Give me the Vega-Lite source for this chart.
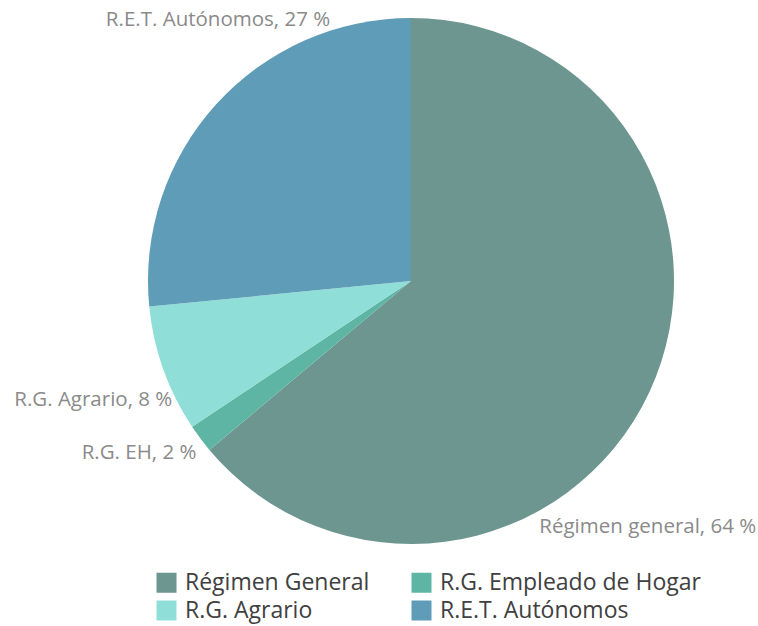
{
  "$schema": "https://vega.github.io/schema/vega-lite/v6.json",
  "width": 694,
  "height": 562,
  "padding": {"left": 64, "top": 0, "right": 0, "bottom": 64},
  "autosize": {"type": "none"},
  "background": "white",
  "config": {"view": {"stroke": null}, "font": "Open Sans"},
  "data": {
    "values": [
      {"serie": "Régimen General", "etiqueta": "Régimen general, 64 %", "valor": 63.9, "orden": 1},
      {"serie": "R.G. Empleado de Hogar", "etiqueta": "R.G. EH, 2 %", "valor": 1.75, "orden": 2},
      {"serie": "R.G. Agrario", "etiqueta": "R.G. Agrario, 8 %", "valor": 7.8, "orden": 3},
      {"serie": "R.E.T. Autónomos", "etiqueta": "R.E.T. Autónomos, 27 %", "valor": 26.55, "orden": 4}
    ]
  },
  "encoding": {
    "theta": {"field": "valor", "type": "quantitative", "stack": true},
    "order": {"field": "orden", "type": "quantitative"}
  },
  "layer": [
    {
      "mark": {"type": "arc", "outerRadius": 263},
      "encoding": {
        "color": {
          "field": "serie",
          "type": "nominal",
          "scale": {
            "domain": ["Régimen General", "R.G. Empleado de Hogar", "R.G. Agrario", "R.E.T. Autónomos"],
            "range": ["#6c968f", "#5fb5a3", "#90ded8", "#5f9cb7"]
          },
          "legend": {
            "orient": "none",
            "legendX": 91,
            "legendY": 571,
            "title": null,
            "columns": 2,
            "direction": "horizontal",
            "symbolType": "square",
            "symbolSize": 400,
            "symbolStrokeWidth": 0,
            "symbolOpacity": 1,
            "labelFontSize": 23,
            "labelColor": "#404040",
            "labelOffset": 7,
            "columnPadding": 40,
            "rowPadding": 4,
            "labelLimit": 400
          }
        }
      }
    },
    {
      "mark": {"type": "text", "radius": 263, "align": "left", "baseline": "middle", "dx": -110, "dy": 135, "fontSize": 20.5, "color": "#8a8a8a"},
      "encoding": {"text": {"condition": {"test": "datum.orden == 1", "field": "etiqueta"}, "value": ""}}
    },
    {
      "mark": {"type": "text", "radius": 263, "align": "right", "baseline": "middle", "dx": -4, "dy": 14, "fontSize": 20.5, "color": "#8a8a8a"},
      "encoding": {"text": {"condition": {"test": "datum.orden == 2", "field": "etiqueta"}, "value": ""}}
    },
    {
      "mark": {"type": "text", "radius": 263, "align": "right", "baseline": "middle", "dx": 9, "dy": 31, "fontSize": 20.5, "color": "#8a8a8a"},
      "encoding": {"text": {"condition": {"test": "datum.orden == 3", "field": "etiqueta"}, "value": ""}}
    },
    {
      "mark": {"type": "text", "radius": 263, "align": "right", "baseline": "middle", "dx": 114, "dy": -84, "fontSize": 20.5, "color": "#8a8a8a"},
      "encoding": {"text": {"condition": {"test": "datum.orden == 4", "field": "etiqueta"}, "value": ""}}
    }
  ]
}
